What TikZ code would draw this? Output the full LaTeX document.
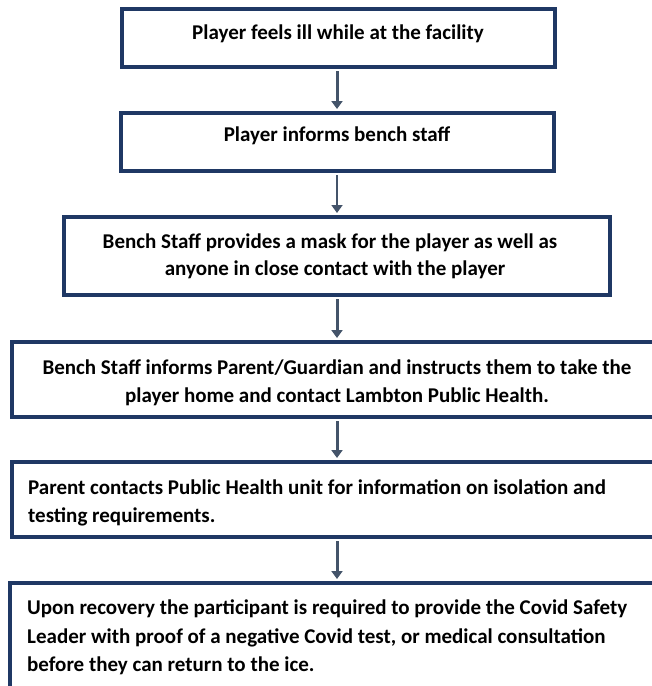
\documentclass[tikz,border=0pt]{standalone}
\usepackage{fontspec}
\setmainfont{Carlito}
\usetikzlibrary{arrows.meta}
\definecolor{navy}{HTML}{1F3864}
\definecolor{slate}{HTML}{44546A}
\begin{document}
\begin{tikzpicture}[x=1pt,y=-1pt,
  box/.style={draw=navy, line width=4pt, inner sep=0pt, fill=white},
  txt/.style={font=\fontsize{21}{28}\selectfont\bfseries, text=black, inner sep=0pt},
  arr/.style={draw=slate, line width=3pt, shorten <=2pt, shorten >=2pt, -{Triangle[width=11pt,length=8pt]}},
  thinarr/.style={arr, line width=1.8pt}]
\useasboundingbox (0,0) rectangle (652,686);
\clip (0,0) rectangle (652,686);
% boxes
\node[box, minimum width=433pt, minimum height=58pt] (b1) at (338.5,38) {};
\node[box, minimum width=433pt, minimum height=58pt] (b2) at (337.5,142) {};
\node[box, minimum width=546pt, minimum height=78pt] (b3) at (337,256) {};
\node[box, minimum width=658pt, minimum height=75pt] (b4) at (341,379.5) {};
\node[box, minimum width=658pt, minimum height=75pt] (b5) at (341,499.5) {};
\node[box, minimum width=660pt, minimum height=117pt] (b6) at (340,641.5) {};
% texts
\node[txt, anchor=base] (t1) at (338,39) {Player feels ill while at the facility};
\node[txt, anchor=base] (t2) at (337,141) {Player informs bench staff};
\node[txt, anchor=base] (t3a) at (330,248) {Bench Staff provides a mask for the player as well as};
\node[txt, anchor=base] (t3b) at (335,275) {anyone in close contact with the player};
\node[txt, anchor=base] (t4a) at (337,374) {Bench Staff informs Parent/Guardian and instructs them to take the};
\node[txt, anchor=base] (t4b) at (337,402) {player home and contact Lambton Public Health.};
\node[txt, anchor=base west] (t5a) at (28,494) {Parent contacts Public Health unit for information on isolation and};
\node[txt, anchor=base west] (t5b) at (28,522) {testing requirements.};
\node[txt, anchor=base west] (t6a) at (27,614) {Upon recovery the participant is required to provide the Covid Safety};
\node[txt, anchor=base west] (t6b) at (27,643) {Leader with proof of a negative Covid test, or medical consultation};
\node[txt, anchor=base west] (t6c) at (27,671) {before they can return to the ice.};
% arrows
\draw[arr] (b1.south -| b3.center) -- (b2.north -| b3.center);
\draw[thinarr] (b2.south -| b3.center) -- (b3.north);
\draw[arr] (b3.south) -- (b4.north -| b3.center);
\draw[arr] (b4.south -| b3.center) -- (b5.north -| b3.center);
\draw[arr] (b5.south -| b3.center) -- (b6.north -| b3.center);
\end{tikzpicture}
\end{document}
